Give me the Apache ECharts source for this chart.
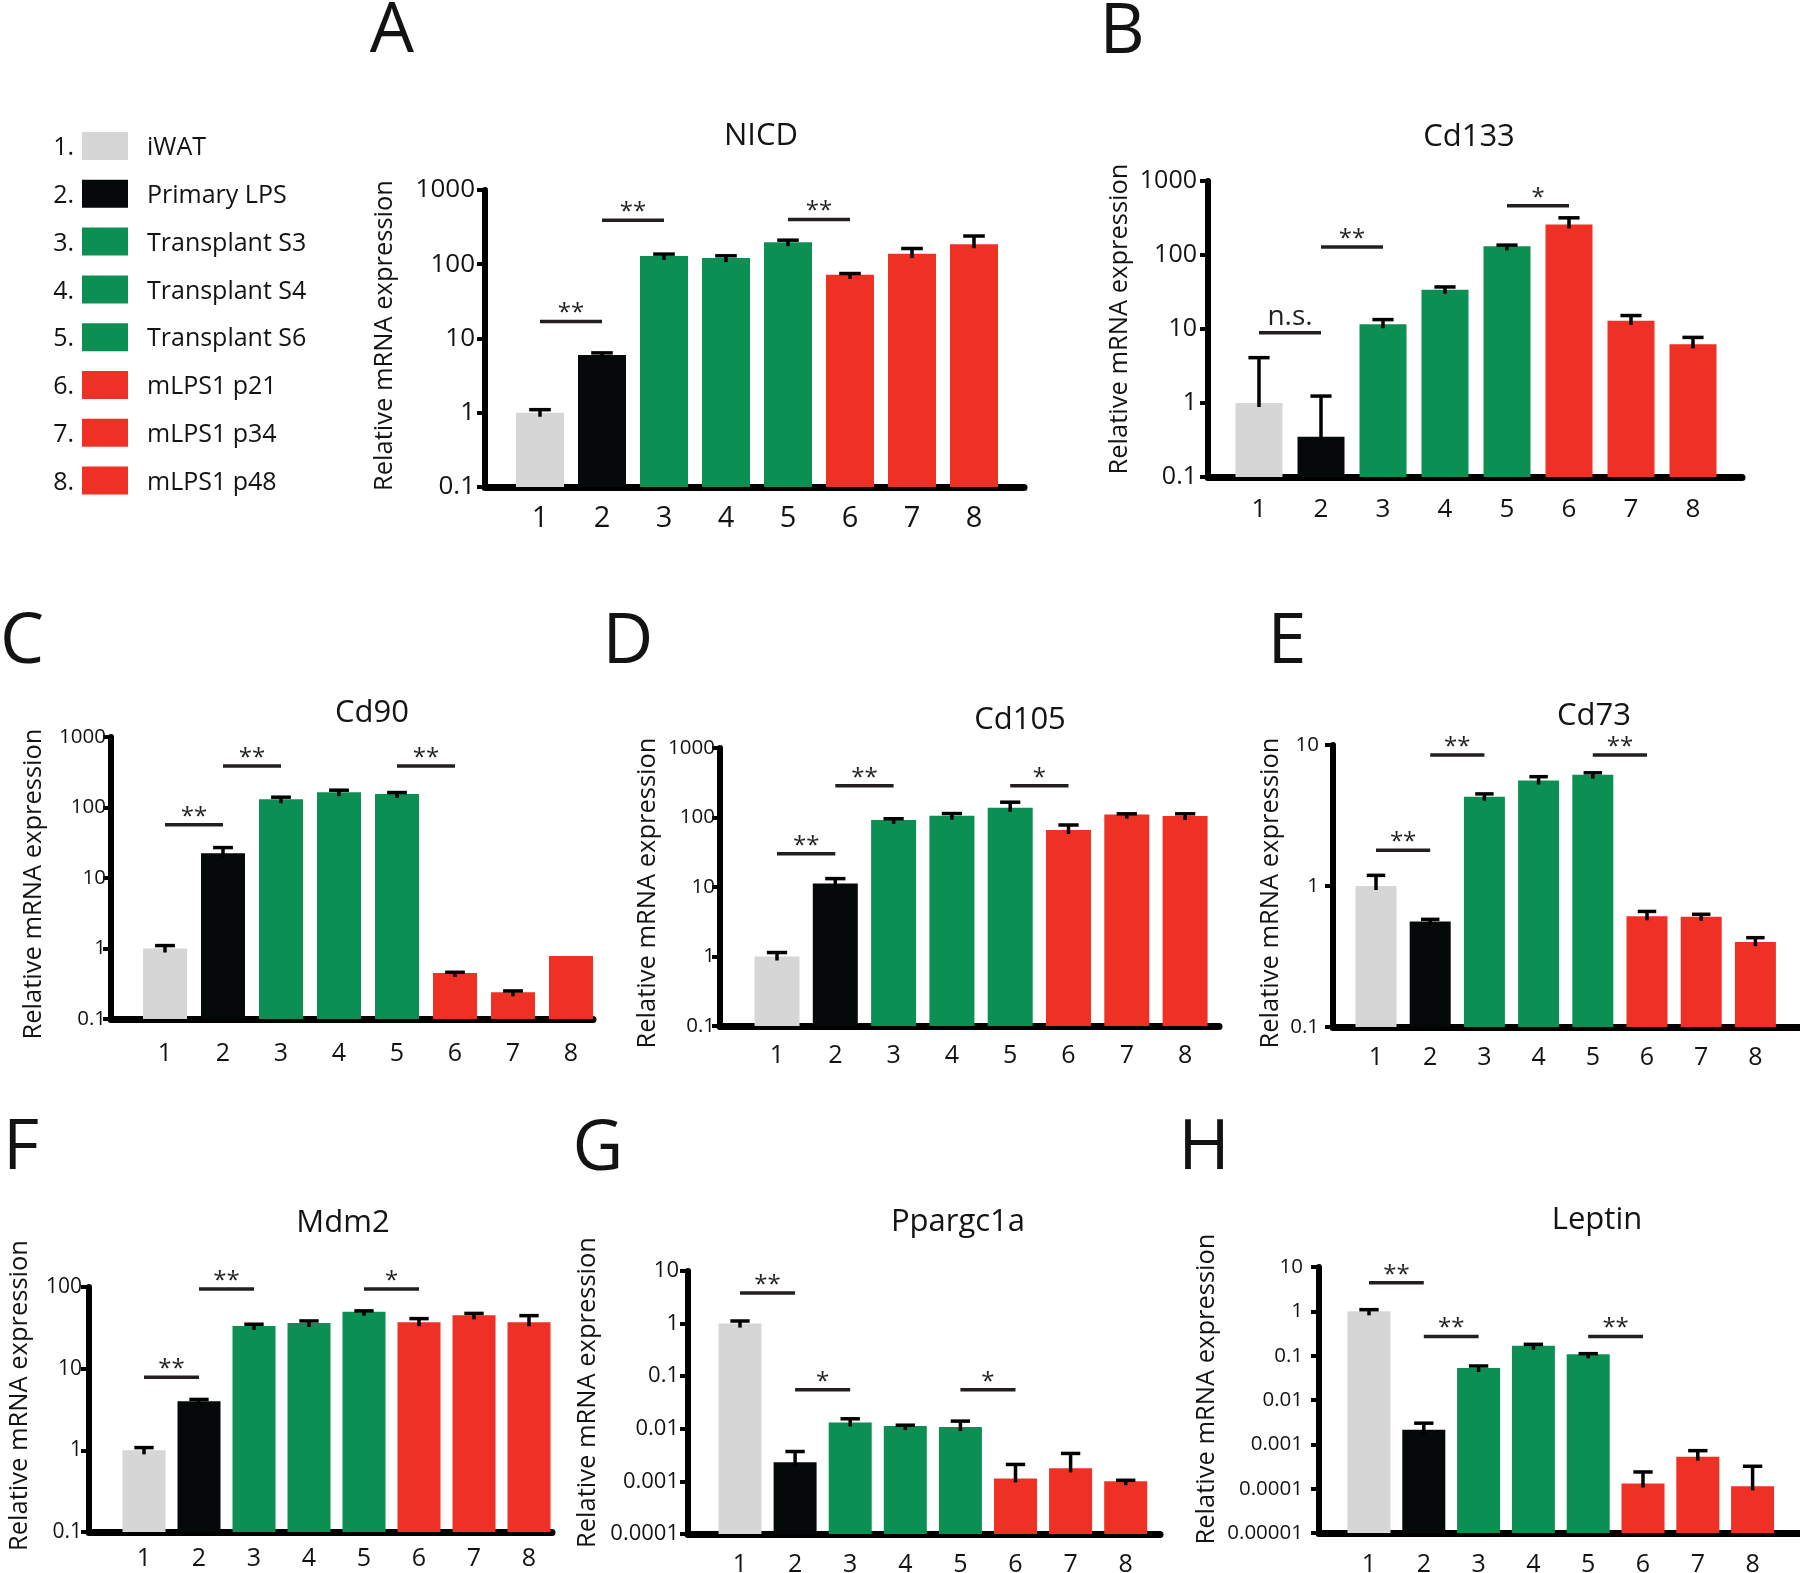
<!DOCTYPE html>
<html>
<head>
<meta charset="utf-8">
<script src="https://cdn.jsdelivr.net/npm/echarts@6/dist/echarts.min.js"></script>
<style>html,body{margin:0;padding:0;background:#fff}#c{width:1800px;height:1573px}</style>
</head>
<body>
<div id="c"></div>
<script>
// ---------------- DATA ----------------
const categories = ['1', '2', '3', '4', '5', '6', '7', '8'];
const groupNames = ['iWAT', 'Primary LPS', 'Transplant S3', 'Transplant S4', 'Transplant S6', 'mLPS1 p21', 'mLPS1 p34', 'mLPS1 p48'];
const panelLetters = ['A', 'B', 'C', 'D', 'E', 'F', 'G', 'H'];
const genes = ['NICD', 'Cd133', 'Cd90', 'Cd105', 'Cd73', 'Mdm2', 'Ppargc1a', 'Leptin'];
const yAxisName = 'Relative mRNA expression';

// mean values and upper ends of error bars (null = no error bar drawn)
const nicdMean = [1.0, 6.0, 129, 121, 198, 72, 138, 186];
const nicdUpper = [1.1, 6.4, 137, 130, 211, 75, 163, 240];
const nicdSig = [[1, 2, 17, '**'], [2, 3, 390, '**'], [5, 6, 400, '**']];
const nicdTicks = [0.1, 1, 10, 100, 1000];

const cd133Mean = [1.0, 0.35, 11.6, 34, 131, 259, 12.9, 6.2];
const cd133Upper = [4.1, 1.24, 13.4, 37, 136, 318, 15.2, 7.7];
const cd133Sig = [[1, 2, 8.9, 'n.s.'], [2, 3, 128, '**'], [5, 6, 462, '*']];
const cd133Ticks = [0.1, 1, 10, 100, 1000];

const cd90Mean = [1.0, 22.4, 131, 165, 156, 0.45, 0.24, 0.78];
const cd90Upper = [1.1, 27, 140, 176, 163, 0.46, 0.25, null];
const cd90Sig = [[1, 2, 57, '**'], [2, 3, 387, '**'], [5, 6, 387, '**']];
const cd90Ticks = [0.1, 1, 10, 100, 1000];

const cd105Mean = [1.0, 11.2, 92, 106, 138, 66, 110, 105];
const cd105Upper = [1.14, 13.2, 96, 114, 166, 78, 113, 113];
const cd105Sig = [[1, 2, 30, '**'], [2, 3, 287, '**'], [5, 6, 287, '*']];
const cd105Ticks = [0.1, 1, 10, 100, 1000];

const cd73Mean = [1.0, 0.56, 4.3, 5.6, 6.15, 0.61, 0.605, 0.40];
const cd73Upper = [1.19, 0.58, 4.5, 5.96, 6.35, 0.66, 0.63, 0.43];
const cd73Sig = [[1, 2, 1.79, '**'], [2, 3, 8.5, '**'], [5, 6, 8.5, '**']];
const cd73Ticks = [0.1, 1, 10];

const mdm2Mean = [1.0, 4.0, 33.4, 36.3, 49.8, 37, 45, 37];
const mdm2Upper = [1.08, 4.2, 35, 38.4, 51, 41, 47.5, 44.6];
const mdm2Sig = [[1, 2, 7.85, '**'], [2, 3, 94.6, '**'], [5, 6, 94.6, '*']];
const mdm2Ticks = [0.1, 1, 10, 100];

const ppargc1aMean = [1.0, 0.0023, 0.0132, 0.01125, 0.0108, 0.00114, 0.00177, 0.00101];
const ppargc1aUpper = [1.12, 0.0037, 0.0155, 0.0117, 0.014, 0.0021, 0.0034, 0.00105];
const ppargc1aSig = [[1, 2, 3.8, '**'], [2, 3, 0.055, '*'], [5, 6, 0.055, '*']];
const ppargc1aTicks = [0.0001, 0.001, 0.01, 0.1, 1, 10];

const leptinMean = [1.0, 0.00214, 0.0527, 0.168, 0.107, 0.000131, 0.000527, 0.000113];
const leptinUpper = [1.09, 0.0030, 0.0585, 0.18, 0.111, 0.000238, 0.00072, 0.00032];
const leptinSig = [[1, 2, 4.4, '**'], [2, 3, 0.27, '**'], [5, 6, 0.27, '**']];
const leptinTicks = [0.00001, 0.0001, 0.001, 0.01, 0.1, 1, 10];

// ---------------- STYLE / LAYOUT ----------------
const barColors = ['#d6d6d6', '#060909', '#0b8f52', '#0b8f52', '#0b8f52', '#ee3124', '#ee3124', '#ee3124'];
const TXT = '#141213';
const FONT = "'Open Sans', 'Noto Sans', sans-serif";

const layouts = [
  {axisX: 485, top: 190, bottom: 487, right: 1024, bar1: 540, step: 62, barW: 48, yFont: 26, yMargin: 10, xFont: 29, xMargin: 17, nameGap: 87, nameShift: 3, letter: [392, 27], title: [761, 134]},
  {axisX: 1208, top: 181, bottom: 477, right: 1742, bar1: 1259, step: 62, barW: 47, yFont: 25, yMargin: 11, xFont: 26, xMargin: 20, nameGap: 75, nameShift: 10, letter: [1122, 28], title: [1469, 135]},
  {axisX: 111, top: 737, bottom: 1019, right: 593, bar1: 165, step: 58, barW: 44, yFont: 20.5, yMargin: 5, xFont: 25, xMargin: 22, nameGap: 64, nameShift: -6, letter: [22, 638], title: [372, 711]},
  {axisX: 720, top: 748, bottom: 1026, right: 1219, bar1: 777, step: 58.3, barW: 45, yFont: 20.5, yMargin: 5, xFont: 25, xMargin: 17, nameGap: 59, nameShift: -6, letter: [628, 638], title: [1020, 718]},
  {axisX: 1333, top: 745, bottom: 1027, right: 1800, bar1: 1376, step: 54.2, barW: 41, yFont: 20.5, yMargin: 14, xFont: 25, xMargin: 18, nameGap: 49, nameShift: -7, letter: [1287, 638], title: [1594, 714]},
  {axisX: 89, top: 1287, bottom: 1532, right: 552, bar1: 144, step: 55, barW: 43, yFont: 21, yMargin: 7, xFont: 25, xMargin: 14, nameGap: 56, nameShift: 14, letter: [21, 1144], title: [343, 1221]},
  {axisX: 688, top: 1271, bottom: 1534, right: 1160, bar1: 740, step: 55.1, barW: 43, yFont: 22, yMargin: 9, xFont: 25, xMargin: 18, nameGap: 87, nameShift: 10, letter: [598, 1145], title: [958, 1220]},
  {axisX: 1319, top: 1267, bottom: 1533, right: 1800, bar1: 1369, step: 54.8, barW: 43, yFont: 20.5, yMargin: 16, xFont: 25, xMargin: 19, nameGap: 99, nameShift: 11, letter: [1204, 1144], title: [1597, 1218]}
];

const panelData = [
  [nicdMean, nicdUpper, nicdSig, nicdTicks],
  [cd133Mean, cd133Upper, cd133Sig, cd133Ticks],
  [cd90Mean, cd90Upper, cd90Sig, cd90Ticks],
  [cd105Mean, cd105Upper, cd105Sig, cd105Ticks],
  [cd73Mean, cd73Upper, cd73Sig, cd73Ticks],
  [mdm2Mean, mdm2Upper, mdm2Sig, mdm2Ticks],
  [ppargc1aMean, ppargc1aUpper, ppargc1aSig, ppargc1aTicks],
  [leptinMean, leptinUpper, leptinSig, leptinTicks]
];

function logLabel(v) {
  const e = Math.round(Math.log10(v));
  if (e >= 0) return String(Math.pow(10, e));
  return '0.' + '0'.repeat(-e - 1) + '1';
}

function makeBarRender(w, yMin) {
  return function (params, api) {
    const x = api.value(0), v = api.value(1);
    const t = api.coord([x, v]);
    const b = api.coord([x, yMin]);
    return {type: 'rect', shape: {x: t[0] - w / 2, y: t[1], width: w, height: b[1] - t[1]},
      style: {fill: barColors[Math.round(x) - 1]}};
  };
}
function makeErrRender(capW) {
  return function (params, api) {
    const x = api.value(0), v = api.value(1), u = api.value(2);
    const p = api.coord([x, v]);
    const q = api.coord([x, u]);
    return {type: 'group', children: [
      {type: 'line', shape: {x1: p[0], y1: p[1] + 4, x2: q[0], y2: q[1]}, style: {stroke: '#000', lineWidth: 3.5}},
      {type: 'line', shape: {x1: q[0] - capW / 2, y1: q[1], x2: q[0] + capW / 2, y2: q[1]}, style: {stroke: '#000', lineWidth: 3.5}}
    ]};
  };
}
function makeSigRender(labels) {
  return function (params, api) {
    const i = api.value(0), j = api.value(1), y = api.value(2);
    const a = api.coord([i, y]);
    const b = api.coord([j, y]);
    const lab = labels[params.dataIndex];
    const ns = lab === 'n.s.';
    return {type: 'group', children: [
      {type: 'line', shape: {x1: a[0], y1: a[1], x2: b[0], y2: b[1]}, style: {stroke: '#231f20', lineWidth: 3.5}},
      {type: 'text', x: (a[0] + b[0]) / 2, y: a[1] + (ns ? -2 : 4),
        style: {text: lab, fill: '#231f20', font: (ns ? 28 : 24) + 'px ' + FONT,
          textAlign: 'center', textVerticalAlign: 'bottom', align: 'center', verticalAlign: 'bottom'}}
    ]};
  };
}

const grids = [], xAxes = [], yAxes = [], series = [], graphics = [];

layouts.forEach(function (L, k) {
  const [mean, upper, sig, ticks] = panelData[k];
  const yMin = ticks[0], yMax = ticks[ticks.length - 1];
  const width = L.right - L.axisX, height = L.bottom - L.top;
  const xMin = 1 - (L.bar1 - L.axisX) / L.step;
  const xMax = xMin + width / L.step;
  grids.push({left: L.axisX, top: L.top, width: width, height: height, containLabel: false, outerBoundsMode: 'none'});
  xAxes.push({
    gridIndex: k, type: 'value', min: xMin, max: xMax,
    axisLine: {show: true, onZero: false, lineStyle: {color: '#000', width: 7}},
    axisTick: {show: false}, splitLine: {show: false}, minorTick: {show: false},
    axisLabel: {customValues: categories.map(function (c, i) { return i + 1; }),
      formatter: function (v) { return categories[Math.round(v) - 1]; },
      fontSize: L.xFont, fontFamily: FONT, color: TXT, margin: L.xMargin}
  });
  const pad = L.nameShift >= 0 ? [0, 0, 0, 2 * L.nameShift] : [0, -2 * L.nameShift, 0, 0];
  yAxes.push({
    gridIndex: k, type: 'log', logBase: 10, min: yMin, max: yMax,
    axisLine: {show: true, onZero: false, lineStyle: {color: '#000', width: 6}},
    axisTick: {show: true, length: 8, lineStyle: {color: '#000', width: 4}},
    minorTick: {show: false}, splitLine: {show: false},
    axisLabel: {formatter: logLabel, fontSize: L.yFont, fontFamily: FONT, color: TXT, margin: L.yMargin,
      showMinLabel: true, showMaxLabel: true},
    name: yAxisName, nameLocation: 'middle', nameGap: L.nameGap, nameRotate: 90, nameMoveOverlap: false,
    nameTextStyle: {fontSize: 25.5, fontFamily: FONT, color: TXT, padding: pad}
  });
  series.push({
    type: 'custom', name: genes[k] + ' bars', xAxisIndex: k, yAxisIndex: k,
    renderItem: makeBarRender(L.barW, yMin),
    encode: {x: 0, y: 1},
    data: mean.map(function (v, i) { return [i + 1, v]; }), silent: true
  });
  const errData = [];
  mean.forEach(function (v, i) { if (upper[i] != null) errData.push([i + 1, v, upper[i]]); });
  series.push({
    type: 'custom', name: genes[k] + ' err', xAxisIndex: k, yAxisIndex: k, z: 3,
    renderItem: makeErrRender(L.barW * 0.45),
    encode: {x: 0, y: [1, 2]},
    data: errData, silent: true
  });
  series.push({
    type: 'custom', name: genes[k] + ' sig', xAxisIndex: k, yAxisIndex: k, z: 4,
    renderItem: makeSigRender(sig.map(function (s) { return s[3]; })),
    encode: {x: [0, 1], y: 2},
    data: sig.map(function (s) { return [s[0], s[1], s[2]]; }), silent: true
  });
  graphics.push({type: 'text', x: L.letter[0], y: L.letter[1] + 5,
    style: {text: panelLetters[k], fill: TXT, font: '70px ' + FONT, textAlign: 'center', textVerticalAlign: 'middle', align: 'center', verticalAlign: 'middle'}});
  graphics.push({type: 'text', x: L.title[0], y: L.title[1] + 2,
    style: {text: genes[k], fill: TXT, font: '31px ' + FONT, textAlign: 'center', textVerticalAlign: 'middle', align: 'center', verticalAlign: 'middle'}});
});

// legend (numbered swatches)
const legendLayout = {numRight: 74, boxX: 82, boxW: 46, boxH: 28, textX: 147, y0: 147, dy: 47.8, font: 25};
groupNames.forEach(function (name, i) {
  const cy = legendLayout.y0 + i * legendLayout.dy;
  graphics.push({type: 'text', x: legendLayout.numRight, y: cy + 1,
    style: {text: categories[i] + '.', fill: TXT, font: legendLayout.font + 'px ' + FONT, textAlign: 'right', textVerticalAlign: 'middle', align: 'right', verticalAlign: 'middle'}});
  graphics.push({type: 'rect', shape: {x: legendLayout.boxX, y: cy - legendLayout.boxH / 2 - 1, width: legendLayout.boxW, height: legendLayout.boxH},
    style: {fill: barColors[i]}});
  graphics.push({type: 'text', x: legendLayout.textX, y: cy + 1,
    style: {text: name, fill: TXT, font: legendLayout.font + 'px ' + FONT, textAlign: 'left', textVerticalAlign: 'middle', align: 'left', verticalAlign: 'middle'}});
});

const chart = echarts.init(document.getElementById('c'), null, {renderer: 'canvas', width: 1800, height: 1573});
chart.setOption({
  backgroundColor: '#fff',
  animation: false,
  grid: grids,
  xAxis: xAxes,
  yAxis: yAxes,
  series: series,
  graphic: {elements: graphics}
});
</script>
</body>
</html>
